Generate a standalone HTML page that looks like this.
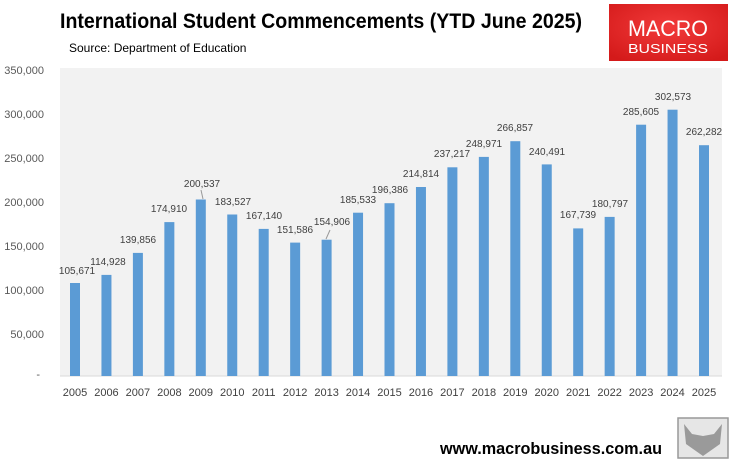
<!DOCTYPE html>
<html><head><meta charset="utf-8"><style>
body{margin:0;background:#fff;width:733px;height:468px;overflow:hidden;font-family:"Liberation Sans",sans-serif}
</style></head><body>
<svg width="733" height="468" xmlns="http://www.w3.org/2000/svg" font-family="Liberation Sans, sans-serif">
<defs><radialGradient id="rg" cx="50%" cy="40%" r="70%"><stop offset="0" stop-color="#f23a3a"/><stop offset="1" stop-color="#d41a1a"/></radialGradient></defs>
<text x="60" y="28" font-size="21" font-weight="bold" fill="#000" textLength="522" lengthAdjust="spacingAndGlyphs">International Student Commencements (YTD June 2025)</text>
<text x="69" y="52" font-size="12" fill="#000">Source: Department of Education</text>
<rect x="609" y="4" width="119" height="57" fill="url(#rg)"/>
<text x="668" y="36" font-size="22" fill="#fff" text-anchor="middle" textLength="80" lengthAdjust="spacingAndGlyphs">MACRO</text>
<text x="668" y="53" font-size="13" fill="#fff" text-anchor="middle" textLength="80" lengthAdjust="spacingAndGlyphs">BUSINESS</text>
<rect x="60" y="68" width="662" height="308" fill="#f2f2f2"/>
<line x1="60" y1="376" x2="722" y2="376" stroke="#d9d9d9"/>
<g font-size="11" fill="#595959" text-anchor="end">
<text x="44" y="74">350,000</text><text x="44" y="118">300,000</text><text x="44" y="162">250,000</text><text x="44" y="206">200,000</text><text x="44" y="250">150,000</text><text x="44" y="294">100,000</text><text x="44" y="338">50,000</text><text x="40" y="378">-</text>
</g>
<g fill="#5b9bd5">
<rect x="70" y="283.0" width="10" height="93.0"/>
<rect x="101.45" y="274.9" width="10" height="101.1"/>
<rect x="132.9" y="252.9" width="10" height="123.1"/>
<rect x="164.35" y="222.1" width="10" height="153.9"/>
<rect x="195.8" y="199.5" width="10" height="176.5"/>
<rect x="227.25" y="214.5" width="10" height="161.5"/>
<rect x="258.7" y="228.9" width="10" height="147.1"/>
<rect x="290.15" y="242.6" width="10" height="133.4"/>
<rect x="321.6" y="239.7" width="10" height="136.3"/>
<rect x="353.05" y="212.7" width="10" height="163.3"/>
<rect x="384.5" y="203.2" width="10" height="172.8"/>
<rect x="415.95" y="187.0" width="10" height="189.0"/>
<rect x="447.4" y="167.3" width="10" height="208.7"/>
<rect x="478.85" y="156.9" width="10" height="219.1"/>
<rect x="510.3" y="141.2" width="10" height="234.8"/>
<rect x="541.75" y="164.4" width="10" height="211.6"/>
<rect x="573.2" y="228.4" width="10" height="147.6"/>
<rect x="604.65" y="216.9" width="10" height="159.1"/>
<rect x="636.1" y="124.7" width="10" height="251.3"/>
<rect x="667.55" y="109.7" width="10" height="266.3"/>
<rect x="699" y="145.2" width="10" height="230.8"/>
</g>
<g font-size="10" fill="#404040" text-anchor="middle">
<text x="77" y="274">105,671</text>
<text x="108" y="265">114,928</text>
<text x="138" y="243">139,856</text>
<text x="169" y="212">174,910</text>
<text x="202" y="187">200,537</text>
<text x="233" y="205">183,527</text>
<text x="264" y="219">167,140</text>
<text x="295" y="233">151,586</text>
<text x="332" y="225">154,906</text>
<text x="358" y="203">185,533</text>
<text x="390" y="193">196,386</text>
<text x="421" y="177">214,814</text>
<text x="452" y="157">237,217</text>
<text x="484" y="147">248,971</text>
<text x="515" y="131">266,857</text>
<text x="547" y="155">240,491</text>
<text x="578" y="218">167,739</text>
<text x="610" y="207">180,797</text>
<text x="641" y="115">285,605</text>
<text x="673" y="100">302,573</text>
<text x="704" y="135">262,282</text>
</g>
<line x1="201" y1="190" x2="203" y2="199" stroke="#999"/>
<line x1="330" y1="230" x2="326" y2="239" stroke="#999"/>
<g font-size="11" fill="#404040" text-anchor="middle">
<text x="75" y="396">2005</text><text x="106.45" y="396">2006</text><text x="137.9" y="396">2007</text><text x="169.35" y="396">2008</text><text x="200.8" y="396">2009</text><text x="232.25" y="396">2010</text><text x="263.7" y="396">2011</text><text x="295.15" y="396">2012</text><text x="326.6" y="396">2013</text><text x="358.05" y="396">2014</text><text x="389.5" y="396">2015</text><text x="420.95" y="396">2016</text><text x="452.4" y="396">2017</text><text x="483.85" y="396">2018</text><text x="515.3" y="396">2019</text><text x="546.75" y="396">2020</text><text x="578.2" y="396">2021</text><text x="609.65" y="396">2022</text><text x="641.1" y="396">2023</text><text x="672.55" y="396">2024</text><text x="704" y="396">2025</text>
</g>
<text x="440" y="454" font-size="17" font-weight="bold" fill="#000" textLength="222" lengthAdjust="spacingAndGlyphs">www.macrobusiness.com.au</text>
<rect x="678" y="418" width="50" height="40" fill="#e6e6e6" stroke="#999" stroke-width="1.5"/>
<path d="M684 424 L692 434 L703 436 L714 434 L722 424 L720 444 L703 456 L686 444Z" fill="#9a9a9a"/>
</svg>
</body></html>
